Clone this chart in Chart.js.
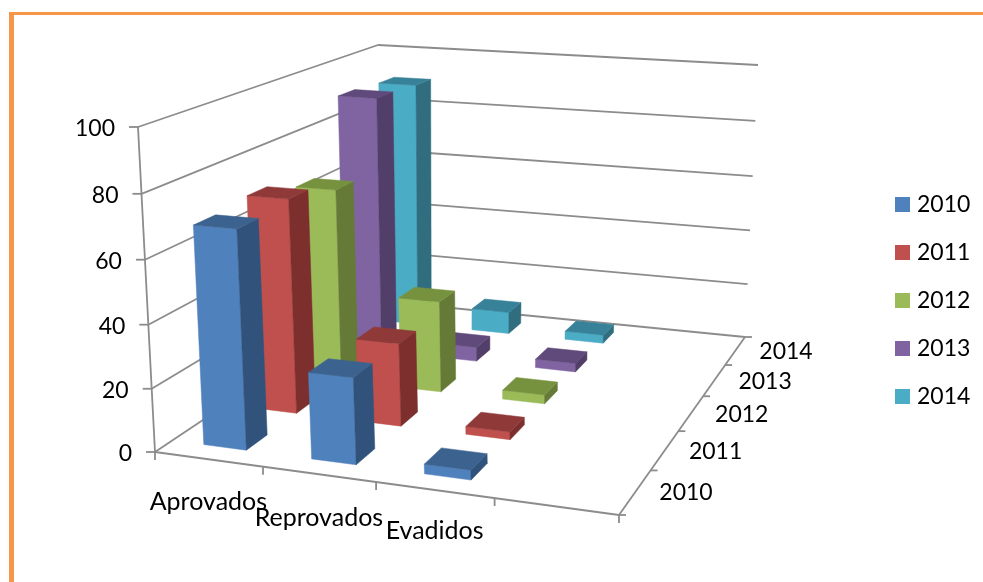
<!DOCTYPE html>
<html>
<head>
<meta charset="utf-8">
<style>
html, body { margin: 0; padding: 0; background: #fff; }
#frame { position: absolute; left: 9px; top: 12px; right: 0; bottom: 0; border-top: 3px solid #F79646; border-left: 5px solid #F79646; }
#chart { position: absolute; left: 0; top: 0; }
</style>
<script src="https://cdn.jsdelivr.net/npm/chart.js@4"></script>
</head>
<body>
<div id="frame"></div>
<canvas id="chart" width="983" height="582"></canvas>
<script>
const categories = ['Aprovados', 'Reprovados', 'Evadidos', ''];
const years = ['2010', '2011', '2012', '2013', '2014'];
const yTicks = [0, 20, 40, 60, 80, 100];

const values2010 = [69, 27, 3, null];
const values2011 = [70.5, 27, 2.5, null];
const values2012 = [66, 31, 3, null];
const values2013 = [91, 5, 3, null];
const values2014 = [90, 8, 3, null];
const series = [values2010, values2011, values2012, values2013, values2014];

// front, side, top shade of each series
const frontColors = ['#4F81BD', '#C0504D', '#9BBB59', '#8064A2', '#4BACC6'];
const sideColors = ['#31527A', '#7D2F2D', '#667A37', '#523F69', '#2F6D7F'];
const topColors = ['#3C628F', '#8F3A38', '#76923F', '#604A7B', '#388299'];

const axisColor = '#8C8C8C';
const font = '23px Lato';
const categoryFont = '25px Lato';

// box corners on screen: front-left, front-right, back-right, back-left
const floorBox = [[155, 452], [619, 515], [745, 337], [381, 301]];
const ceilBox = [[138, 127], [609, 159], [758, 65], [378, 45]];
const zPerspective = 0.035;

// unit square to quad
function homography(q) {
    const [[x0, y0], [x1, y1], [x2, y2], [x3, y3]] = q;
    const dx1 = x1 - x2, dx2 = x3 - x2, sx = x0 - x1 + x2 - x3;
    const dy1 = y1 - y2, dy2 = y3 - y2, sy = y0 - y1 + y2 - y3;
    const det = dx1 * dy2 - dx2 * dy1;
    const g = (sx * dy2 - dx2 * sy) / det;
    const h = (dx1 * sy - sx * dy1) / det;
    const a = x1 - x0 + g * x1, b = x3 - x0 + h * x3;
    const d = y1 - y0 + g * y1, e = y3 - y0 + h * y3;
    return (s, t) => {
        const w = g * s + h * t + 1;
        return [(a * s + b * t + x0) / w, (d * s + e * t + y0) / w];
    };
}
const floorMap = homography(floorBox);
const ceilMap = homography(ceilBox);

// u = category slot, v = year slot, z = value
function project(u, v, z) {
    const f = floorMap(u / categories.length, v / years.length);
    const c = ceilMap(u / categories.length, v / years.length);
    const s = z / 100;
    const t = s / (1 + zPerspective * (1 - s));
    return { x: f[0] + (c[0] - f[0]) * t, y: f[1] + (c[1] - f[1]) * t };
}

const datasets = [];

function addLine(a, b) {
    datasets.push({ data: [a, b], showLine: true, borderColor: axisColor, borderWidth: 1.8, pointRadius: 0 });
}
function addFace(points, color) {
    datasets.push({ data: points, face: true, backgroundColor: color, showLine: false, pointRadius: 0 });
}
function shift(p, dx, dy) {
    return { x: p.x + dx, y: p.y + dy };
}

const nu = categories.length, nv = years.length;

// walls
yTicks.forEach((t) => {
    addLine(project(0, 0, t), project(0, nv, t));
    addLine(project(0, nv, t), project(nu, nv, t));
    addLine(project(0, 0, t), shift(project(0, 0, t), -9, 0));
});
addLine(project(0, 0, 0), project(0, 0, 100));
addLine(project(0, 0, 0), project(nu, 0, 0));
addLine(project(nu, 0, 0), project(nu, nv, 0));
for (let i = 0; i <= nu; i++) {
    addLine(project(i, 0, 0), shift(project(i, 0, 0), 0, 8));
}
for (let j = 0; j <= nv; j++) {
    addLine(project(nu, j, 0), shift(project(nu, j, 0), 7, 0));
}

// bars, back row first
const gap = 0.3;
for (let j = nv - 1; j >= 0; j--) {
    series[j].forEach((value, i) => {
        if (value === null) return;
        const u0 = i + gap, u1 = i + 1 - gap, v0 = j + gap, v1 = j + 1 - gap;
        addFace([project(u0, v0, 0), project(u1, v0, 0), project(u1, v0, value), project(u0, v0, value)], frontColors[j]);
        addFace([project(u1, v0, 0), project(u1, v1, 0), project(u1, v1, value), project(u1, v0, value)], sideColors[j]);
        addFace([project(u0, v0, value), project(u1, v0, value), project(u1, v1, value), project(u0, v1, value)], topColors[j]);
    });
}
datasets.forEach((d, k) => { d.order = -k; });

const facePlugin = {
    id: 'faces',
    beforeDatasetDraw(chart, args) {
        const ds = chart.data.datasets[args.index];
        if (!ds.face) return;
        const ctx = chart.ctx;
        ctx.save();
        ctx.beginPath();
        args.meta.data.forEach((pt, n) => {
            if (n === 0) ctx.moveTo(pt.x, pt.y); else ctx.lineTo(pt.x, pt.y);
        });
        ctx.closePath();
        ctx.fillStyle = ds.backgroundColor;
        ctx.strokeStyle = ds.backgroundColor;
        ctx.lineWidth = 0.5;
        ctx.fill();
        ctx.stroke();
        ctx.restore();
    }
};

const catLabelDrop = [43, 44, 41];

const labelPlugin = {
    id: 'labels3d',
    afterDraw(chart) {
        const ctx = chart.ctx;
        const sx = chart.scales.x, sy = chart.scales.y;
        ctx.save();
        ctx.font = font;
        ctx.fillStyle = '#000';
        ctx.textBaseline = 'middle';

        ctx.textAlign = 'right';
        yTicks.forEach((t) => {
            const p = project(0, 0, t);
            ctx.fillText(String(t), sx.getPixelForValue(p.x) - 23, sy.getPixelForValue(p.y) + 2);
        });

        ctx.textAlign = 'left';
        years.forEach((y, j) => {
            const p = project(nu, j + 0.5, 0);
            ctx.fillText(y, sx.getPixelForValue(p.x) + 24, sy.getPixelForValue(p.y) + 1);
        });

        // legend
        years.forEach((y, j) => {
            ctx.fillStyle = frontColors[j];
            ctx.fillRect(895, 197 + j * 48, 15, 15);
            ctx.fillStyle = '#000';
            ctx.fillText(y, 917, 205 + j * 48);
        });

        ctx.font = categoryFont;
        ctx.textAlign = 'center';
        categories.forEach((c, i) => {
            if (!c) return;
            const p = project(i + 0.5, 0, 0);
            ctx.fillText(c, sx.getPixelForValue(p.x), sy.getPixelForValue(p.y) + catLabelDrop[i]);
        });
        ctx.restore();
    }
};

new Chart(document.getElementById('chart'), {
    type: 'scatter',
    data: { datasets: datasets },
    options: {
        responsive: false,
        animation: false,
        layout: { padding: 0 },
        scales: {
            x: { type: 'linear', min: 0, max: 983, display: false },
            y: { type: 'linear', min: 0, max: 582, reverse: true, display: false }
        },
        plugins: {
            legend: { display: false },
            tooltip: { enabled: false }
        }
    },
    plugins: [facePlugin, labelPlugin]
});
</script>
</body>
</html>
